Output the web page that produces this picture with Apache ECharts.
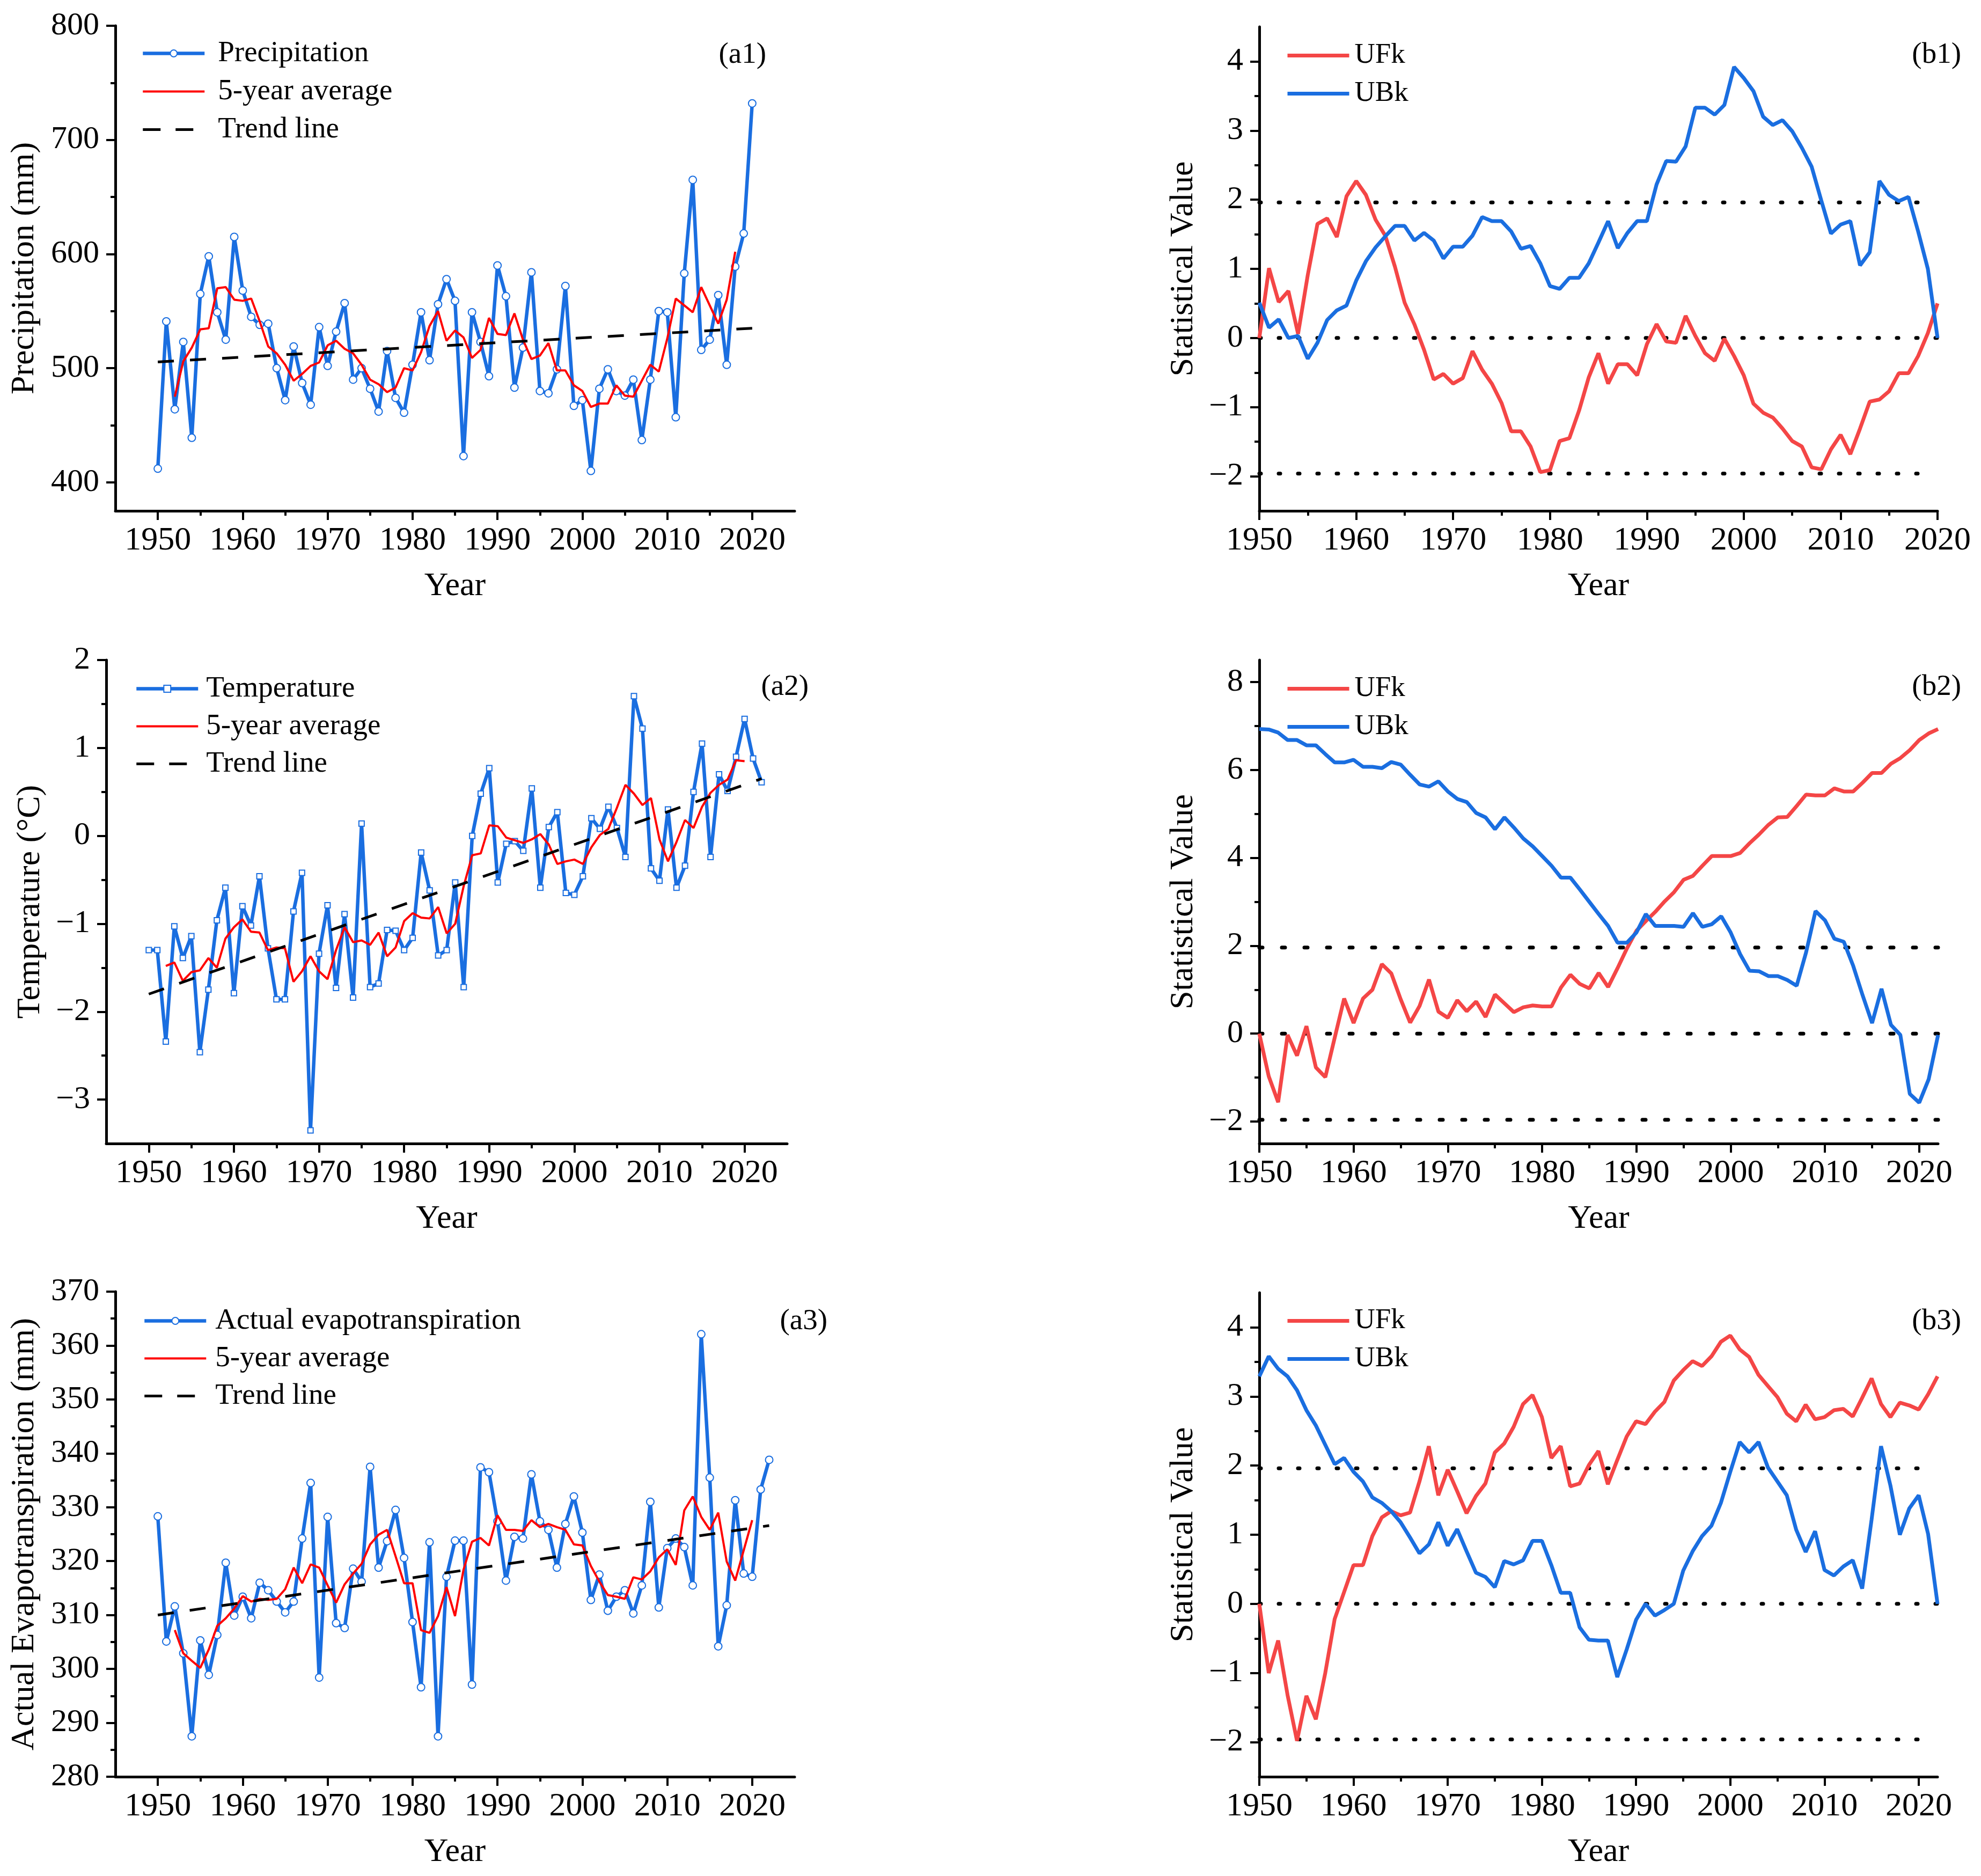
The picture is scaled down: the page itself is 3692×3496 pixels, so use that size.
<!DOCTYPE html>
<html>
<head>
<meta charset="utf-8">
<script src="https://cdn.jsdelivr.net/npm/echarts@6.0.0/dist/echarts.min.js"></script>
<style>
  html, body { margin: 0; padding: 0; background: #fff; }
  #main { width: 3692px; height: 3496px; }
</style>
</head>
<body>
<div id="main"></div>
<script>
// ---- data ----
// (a1) precipitation, 1950-2020
var precipStart = 1950;
var precip = [
  412, 541, 464, 523, 439, 565, 598, 549, 525, 615,
  568, 545, 538, 539, 500, 472, 519, 487, 468, 536,
  502, 532, 557, 490, 500, 482, 462, 515, 474, 461,
  503, 549, 507, 556, 578, 559, 423, 549, 523, 493,
  590, 563, 483, 518, 584, 480, 478, 499, 572, 467,
  472, 410, 482, 499, 480, 476, 490, 437, 490, 550,
  549, 457, 583, 665, 516, 525, 564, 503, 589, 618,
  732
];
// 5-year average, 1952-2018
var precipAvgStart = 1952;
var precipAvg = [
  475, 506, 518, 534, 535, 570, 571, 560, 559, 561,
  541, 519, 513, 503, 489, 495, 502, 505, 520, 524,
  517, 513, 503, 490, 486, 479, 483, 500, 498, 514,
  537, 550, 524, 533, 527, 509, 516, 544, 530, 529,
  548, 525, 508, 511, 522, 498, 498, 485, 480, 466,
  469, 469, 485, 476, 475, 489, 503, 497, 526, 561,
  555, 549, 571, 555, 539, 560, 602
];
var precipTrend = [[1950, 505.5], [2020, 535]];

// (a2) temperature, 1950-2022
var tempStart = 1950;
var temp = [
  -1.30, -1.30, -2.34, -1.03, -1.39, -1.14, -2.46, -1.75, -0.96, -0.59,
  -1.79, -0.80, -1.02, -0.46, -1.28, -1.86, -1.86, -0.86, -0.42, -3.35,
  -1.34, -0.79, -1.73, -0.89, -1.84, 0.14, -1.72, -1.68, -1.07, -1.08,
  -1.30, -1.16, -0.19, -0.62, -1.36, -1.30, -0.53, -1.72, 0.00, 0.48,
  0.77, -0.53, -0.09, -0.06, -0.17, 0.54, -0.59, 0.10, 0.27, -0.65,
  -0.67, -0.46, 0.20, 0.08, 0.33, 0.09, -0.24, 1.59, 1.22, -0.37,
  -0.51, 0.30, -0.59, -0.34, 0.50, 1.05, -0.24, 0.70, 0.51, 0.90,
  1.33, 0.88, 0.61
];
var tempAvgStart = 1952;
var tempAvg = [
  -1.48, -1.44, -1.65, -1.55, -1.53, -1.39, -1.50, -1.17,
  -1.04, -0.95, -1.09, -1.10, -1.30, -1.27, -1.28, -1.66, -1.54, -1.37,
  -1.54, -1.63, -1.30, -1.04, -1.21, -1.19, -1.24, -1.10, -1.37, -1.27,
  -0.97, -0.88, -0.93, -0.94, -0.81, -1.11, -1.00, -0.57, -0.22, -0.20,
  0.12, 0.11, -0.02, -0.05, -0.08, -0.04, 0.02, -0.10, -0.32, -0.29,
  -0.27, -0.32, -0.13, 0.01, 0.08, 0.32, 0.58, 0.48, 0.35, 0.43,
  -0.04, -0.29, -0.07, 0.18, 0.09, 0.33, 0.49, 0.58, 0.64, 0.86,
  0.85
];
var tempTrend = [[1950, -1.80], [2022, 0.65]];

// (a3) actual evapotranspiration, 1950-2022
var aetStart = 1950;
var aet = [
  328.3, 305.1, 311.6, 302.9, 287.5, 305.3, 298.9, 306.3, 319.7, 309.9,
  313.4, 309.4, 316.0, 314.6, 312.5, 310.5, 312.5, 324.2, 334.5, 298.4,
  328.2, 308.5, 307.6, 318.6, 316.2, 337.5, 318.8, 323.7, 329.5, 320.6,
  308.7, 296.6, 323.5, 287.5, 317.1, 323.8, 323.8, 297.1, 337.4, 336.5,
  327.4, 316.4, 324.5, 324.2, 336.1, 327.4, 325.8, 318.8, 326.9, 332.0,
  325.3, 312.8, 317.5, 310.8, 313.4, 314.6, 310.3, 315.5, 331.0, 311.4,
  322.4, 324.2, 322.6, 315.5, 362.1, 335.5, 304.2, 311.8, 331.3, 317.7,
  317.1, 333.3, 338.8
];
var aetAvgStart = 1952;
var aetAvg = [
  307.2, 302.9, 301.5, 300.2, 303.6, 308.0, 309.4, 311.2,
  313.5, 312.5, 313.0, 312.8, 313.0, 314.8, 318.8, 315.9, 319.4, 318.8,
  315.5, 312.3, 315.7, 317.7, 319.5, 323.1, 324.9, 325.8, 320.9, 315.9,
  315.9, 307.2, 306.7, 309.8, 315.2, 309.8, 318.4, 323.6, 324.3, 322.9,
  328.5, 325.8, 325.8, 325.6, 327.6, 326.3, 326.9, 326.3, 325.8, 323.1,
  322.9, 319.1, 316.2, 313.7, 313.4, 313.0, 317.0, 316.6, 318.1, 320.7,
  322.2, 319.3, 329.4, 332.0, 328.2, 325.8, 329.0, 319.9, 316.4, 322.0,
  327.6
];
var aetTrend = [[1950, 310.0], [2022, 326.6]];

// (b1) Mann-Kendall, precipitation, 1950-2020
var mkStart = 1950;
var b1UF = [
  0.00, 1.01, 0.52, 0.68, 0.06, 0.91, 1.65, 1.73, 1.46, 2.05,
  2.27, 2.07, 1.71, 1.48, 1.03, 0.51, 0.20, -0.17, -0.60, -0.52,
  -0.66, -0.58, -0.19, -0.46, -0.66, -0.94, -1.35, -1.35, -1.57, -1.94,
  -1.91, -1.49, -1.45, -1.05, -0.57, -0.22, -0.66, -0.38, -0.38, -0.54,
  -0.09, 0.20, -0.05, -0.07, 0.32, 0.03, -0.22, -0.33, -0.01, -0.26,
  -0.54, -0.95, -1.08, -1.15, -1.31, -1.49, -1.57, -1.87, -1.90, -1.61,
  -1.40, -1.68, -1.31, -0.92, -0.89, -0.77, -0.51, -0.51, -0.26, 0.07,
  0.50
];
var b1UB = [
  0.51, 0.15, 0.27, 0.00, 0.03, -0.30, -0.07, 0.26, 0.40, 0.47,
  0.83, 1.11, 1.31, 1.47, 1.62, 1.62, 1.41, 1.52, 1.41, 1.15,
  1.32, 1.32, 1.48, 1.75, 1.69, 1.69, 1.54, 1.29, 1.33, 1.08,
  0.75, 0.71, 0.87, 0.87, 1.08, 1.38, 1.69, 1.30, 1.52, 1.69,
  1.69, 2.22, 2.56, 2.55, 2.77, 3.33, 3.33, 3.23, 3.37, 3.92,
  3.76, 3.57, 3.20, 3.08, 3.15, 2.99, 2.75, 2.48, 1.99, 1.51,
  1.64, 1.69, 1.05, 1.24, 2.27, 2.07, 1.98, 2.04, 1.54, 1.00,
  0.00
];
// (b2) temperature, 1950-2022
var b2UF = [
  0.00, -0.97, -1.56, -0.03, -0.50, 0.17, -0.77, -0.99, -0.09, 0.80,
  0.24, 0.80, 1.00, 1.58, 1.37, 0.78, 0.25, 0.63, 1.23, 0.50,
  0.36, 0.76, 0.51, 0.73, 0.38, 0.89, 0.69, 0.49, 0.60, 0.64,
  0.62, 0.62, 1.05, 1.34, 1.13, 1.03, 1.38, 1.06, 1.49, 1.94,
  2.34, 2.56, 2.77, 3.01, 3.22, 3.50, 3.59, 3.82, 4.04, 4.04,
  4.04, 4.11, 4.33, 4.53, 4.75, 4.92, 4.93, 5.18, 5.44, 5.42,
  5.42, 5.58, 5.51, 5.51, 5.71, 5.93, 5.93, 6.14, 6.27, 6.45,
  6.68, 6.83, 6.93
];
var b2UB = [
  6.93, 6.92, 6.85, 6.68, 6.68, 6.56, 6.56, 6.36, 6.17, 6.17,
  6.23, 6.07, 6.07, 6.04, 6.18, 6.12, 5.89, 5.67, 5.62, 5.74,
  5.51, 5.34, 5.27, 5.02, 4.92, 4.65, 4.92, 4.69, 4.44, 4.26,
  4.04, 3.82, 3.55, 3.55, 3.28, 3.00, 2.72, 2.45, 2.07, 2.07,
  2.30, 2.72, 2.45, 2.45, 2.45, 2.43, 2.74, 2.43, 2.49, 2.67,
  2.30, 1.81, 1.43, 1.42, 1.31, 1.31, 1.22, 1.09, 1.85, 2.79,
  2.58, 2.16, 2.09, 1.54, 0.87, 0.24, 1.02, 0.20, -0.03, -1.37,
  -1.57, -1.04, -0.03
];
// (b3) evapotranspiration, 1950-2022
var b3UF = [
  0.00, -1.00, -0.53, -1.32, -1.98, -1.33, -1.67, -1.00, -0.22, 0.17,
  0.56, 0.56, 0.98, 1.25, 1.34, 1.28, 1.32, 1.77, 2.28, 1.57,
  1.94, 1.63, 1.31, 1.56, 1.74, 2.19, 2.32, 2.56, 2.89, 3.02,
  2.70, 2.11, 2.28, 1.70, 1.74, 2.01, 2.21, 1.73, 2.08, 2.42,
  2.64, 2.60, 2.78, 2.92, 3.23, 3.38, 3.51, 3.44, 3.58, 3.79,
  3.88, 3.68, 3.57, 3.31, 3.15, 2.99, 2.75, 2.64, 2.88, 2.67,
  2.70, 2.80, 2.82, 2.71, 2.98, 3.26, 2.89, 2.70, 2.91, 2.87,
  2.81, 3.03, 3.29
];
var b3UB = [
  3.29, 3.58, 3.40, 3.29, 3.09, 2.80, 2.58, 2.30, 2.02, 2.11,
  1.91, 1.77, 1.54, 1.46, 1.34, 1.18, 0.96, 0.73, 0.86, 1.18,
  0.84, 1.08, 0.76, 0.45, 0.39, 0.24, 0.62, 0.57, 0.63, 0.91,
  0.91, 0.56, 0.16, 0.16, -0.34, -0.52, -0.53, -0.53, -1.06, -0.66,
  -0.23, 0.00, -0.17, -0.09, 0.00, 0.48, 0.76, 0.98, 1.13, 1.46,
  1.91, 2.34, 2.19, 2.34, 1.97, 1.77, 1.57, 1.07, 0.75, 1.05,
  0.49, 0.41, 0.54, 0.63, 0.22, 1.22, 2.28, 1.71, 1.00, 1.38,
  1.57, 1.01, 0.00
];
// significance levels (±1.96) and zero line, with the year where each dotted line ends
var mkLevels = [1.96, 0, -1.96];
var b1LevelEnd = [2019, 2020, 2019];
var b2LevelEnd = [2022, 2022, 2022];
var b3LevelEnd = [2021, 2022, 2021];

// tick labels
var yearTicks = [1950, 1960, 1970, 1980, 1990, 2000, 2010, 2020];
var yearMinor = [1955, 1965, 1975, 1985, 1995, 2005, 2015];
var precipTicks = [400, 500, 600, 700, 800];
var precipMinor = [450, 550, 650, 750];
var tempTicks = [-3, -2, -1, 0, 1, 2];
var tempMinor = [-2.5, -1.5, -0.5, 0.5, 1.5];
var aetTicks = [280, 290, 300, 310, 320, 330, 340, 350, 360, 370];
var aetMinor = [285, 295, 305, 315, 325, 335, 345, 355, 365];
var mkTicks = [-2, -1, 0, 1, 2, 3, 4];
var mkMinor = [-1.5, -0.5, 0.5, 1.5, 2.5, 3.5];
var mk2Ticks = [-2, 0, 2, 4, 6, 8];
var mk2Minor = [-1, 1, 3, 5, 7];

// ---- chart ----
var FONT = '"Liberation Serif", "Times New Roman", serif';
var BLUE = '#1a6ee0';
var RED = '#ff0000';
var UF_RED = '#f44646';
var NONE = 'rgba(0,0,0,0)';

function plain(v) { return String(v).replace('-', '\u2212'); }

function pairs(start, values) {
  return values.map(function (v, k) { return [start + k, v]; });
}

var panels = [
  { grid: { left: 215, top: 48, width: 1266, height: 904 }, x: [1945, 2025], y: [375, 800],
    yTicks: precipTicks, yMinor: precipMinor, yName: 'Precipitation (mm)', yGap: 138, tag: '(a1)', tagX: 1428, tagY: 103 },
  { grid: { left: 198, top: 1230, width: 1269, height: 901 }, x: [1945, 2025], y: [-3.5, 2],
    yTicks: tempTicks, yMinor: tempMinor, yName: 'Temperature (\u00B0C)', yGap: 110, tag: '(a2)', tagX: 1507, tagY: 1281 },
  { grid: { left: 215, top: 2407, width: 1266, height: 904 }, x: [1945, 2025], y: [280, 370],
    yTicks: aetTicks, yMinor: aetMinor, yName: 'Actual Evapotranspiration (mm)', yGap: 138, tag: '(a3)', tagX: 1542, tagY: 2463 },
  { grid: { left: 2347, top: 50, width: 1264, height: 902 }, x: [1950, 2020], y: [-2.5, 4.5],
    yTicks: mkTicks, yMinor: mkMinor, yName: 'Statistical Value', yGap: 110, tag: '(b1)', tagX: 3655, tagY: 103 },
  { grid: { left: 2347, top: 1230, width: 1265, height: 901 }, x: [1950, 2022], y: [-2.5, 8.5],
    yTicks: mk2Ticks, yMinor: mk2Minor, yName: 'Statistical Value', yGap: 110, tag: '(b2)', tagX: 3655, tagY: 1281 },
  { grid: { left: 2347, top: 2409, width: 1264, height: 902 }, x: [1950, 2022], y: [-2.5, 4.5],
    yTicks: mkTicks, yMinor: mkMinor, yName: 'Statistical Value', yGap: 110, tag: '(b3)', tagX: 3655, tagY: 2463 }
];

var grids = [], xAxes = [], yAxes = [], graphics = [];
var axisLine = { show: true, onZero: false, lineStyle: { color: '#000', width: 5 } };

panels.forEach(function (p, i) {
  grids.push(Object.assign({ containLabel: false, outerBoundsMode: 'none' }, p.grid));
  // main x axis
  xAxes.push({
    type: 'value', gridIndex: i, position: 'bottom', min: p.x[0], max: p.x[1],
    axisLine: axisLine, splitLine: { show: false },
    axisTick: { show: true, customValues: yearTicks, length: 17, lineStyle: { color: '#000', width: 4 } },
    axisLabel: { customValues: yearTicks, margin: 25, color: '#000', fontFamily: FONT, fontSize: 62, formatter: plain },
    name: 'Year', nameLocation: 'middle', nameGap: 110,
    nameTextStyle: { color: '#000', fontFamily: FONT, fontSize: 62 }
  });
  // minor x ticks
  xAxes.push({
    type: 'value', gridIndex: i, position: 'bottom', min: p.x[0], max: p.x[1],
    axisLine: { show: false, onZero: false }, splitLine: { show: false },
    axisTick: { show: true, customValues: yearMinor, length: 9, lineStyle: { color: '#000', width: 4 } },
    axisLabel: { show: false }
  });
  // main y axis
  yAxes.push({
    type: 'value', gridIndex: i, position: 'left', min: p.y[0], max: p.y[1],
    axisLine: axisLine, splitLine: { show: false },
    axisTick: { show: true, customValues: p.yTicks, length: 17, lineStyle: { color: '#000', width: 4 } },
    axisLabel: { customValues: p.yTicks, margin: 30, color: '#000', fontFamily: FONT, fontSize: 60, formatter: plain },
    name: p.yName, nameLocation: 'middle', nameGap: p.yGap,
    nameTextStyle: { color: '#000', fontFamily: FONT, fontSize: 62 }
  });
  // minor y ticks
  yAxes.push({
    type: 'value', gridIndex: i, position: 'left', min: p.y[0], max: p.y[1],
    axisLine: { show: false, onZero: false }, splitLine: { show: false },
    axisTick: { show: true, customValues: p.yMinor, length: 9, lineStyle: { color: '#000', width: 4 } },
    axisLabel: { show: false }
  });
  graphics.push({
    type: 'text', x: p.tagX, y: p.tagY,
    style: { text: p.tag, fill: '#000', font: '55px ' + FONT, align: 'right', verticalAlign: 'middle' }
  });
});

function obsSeries(name, i, start, values, symbol, size) {
  return {
    name: name, type: 'line', xAxisIndex: 2 * i, yAxisIndex: 2 * i,
    data: pairs(start, values), symbol: symbol, symbolSize: size, showSymbol: true,
    lineStyle: { color: BLUE, width: 6.5 },
    itemStyle: { color: BLUE, borderColor: BLUE, borderWidth: 3.5 },
    z: 3
  };
}
function avgSeries(i, start, values) {
  return {
    name: '5-year average', type: 'line', xAxisIndex: 2 * i, yAxisIndex: 2 * i,
    data: pairs(start, values), symbol: 'none',
    lineStyle: { color: RED, width: 4 }, itemStyle: { color: RED }, z: 4
  };
}
function trendSeries(i, pts) {
  return {
    name: 'Trend line', type: 'line', xAxisIndex: 2 * i, yAxisIndex: 2 * i,
    data: pts, symbol: 'none',
    lineStyle: { color: '#000', width: 5, type: [30, 30] }, itemStyle: { color: '#000' }, z: 5
  };
}
function mkSeries(name, i, values, color) {
  return {
    name: name, type: 'line', xAxisIndex: 2 * i, yAxisIndex: 2 * i,
    data: pairs(mkStart, values), symbol: 'none',
    lineStyle: { color: color, width: 7 }, itemStyle: { color: color }, z: 3
  };
}
function levelSeries(i, ends, dash, w) {
  return mkLevels.map(function (lv, k) {
    return {
      type: 'line', xAxisIndex: 2 * i, yAxisIndex: 2 * i, silent: true,
      data: [[mkStart, lv], [ends[k], lv]], symbol: 'none',
      lineStyle: { color: '#000', width: w, type: dash, cap: 'round' }, z: 2
    };
  });
}

var series = [
  obsSeries('Precipitation', 0, precipStart, precip, 'emptyCircle', 14),
  avgSeries(0, precipAvgStart, precipAvg),
  trendSeries(0, precipTrend),
  obsSeries('Temperature', 1, tempStart, temp, 'emptyRect', 10),
  avgSeries(1, tempAvgStart, tempAvg),
  trendSeries(1, tempTrend),
  obsSeries('Actual evapotranspiration', 2, aetStart, aet, 'emptyCircle', 14),
  avgSeries(2, aetAvgStart, aetAvg),
  trendSeries(2, aetTrend),
  mkSeries('UFk', 3, b1UF, UF_RED),
  mkSeries('UBk', 3, b1UB, BLUE),
  mkSeries('UFk', 4, b2UF, UF_RED),
  mkSeries('UBk', 4, b2UB, BLUE),
  mkSeries('UFk', 5, b3UF, UF_RED),
  mkSeries('UBk', 5, b3UB, BLUE)
].concat(levelSeries(3, b1LevelEnd, [3, 33], 7))
 .concat(levelSeries(4, b2LevelEnd, [6, 36], 7))
 .concat(levelSeries(5, b3LevelEnd, [3, 33], 7));

// legend entries: plain line icons except the observed series
function lineItem(name, width, dash) {
  return {
    name: name,
    itemStyle: { color: NONE, borderColor: NONE, borderWidth: 0, opacity: 0 },
    lineStyle: { width: width, type: dash || 'solid' }
  };
}
function obsItem(name) {
  return { name: name, lineStyle: { width: 6.5 } };
}
function legendAt(items, left, top, gap, size, pad) {
  return {
    data: items, orient: 'vertical', left: left, top: top, padding: 0,
    itemWidth: 115, itemHeight: 16, itemGap: gap, selectedMode: false,
    textStyle: { color: '#000', fontFamily: FONT, fontSize: size, lineHeight: size, padding: [0, 0, 0, pad] }
  };
}
var aLegendTail = [lineItem('5-year average', 4), lineItem('Trend line', 5, [33, 28])];
var bLegend = [lineItem('UFk', 7), lineItem('UBk', 7)];

var option = {
  animation: false,
  backgroundColor: '#fff',
  grid: grids,
  xAxis: xAxes,
  yAxis: yAxes,
  legend: [
    legendAt([obsItem('Precipitation')].concat(aLegendTail), 263, 72, 16, 55, 20),
    legendAt([obsItem('Temperature')].concat(aLegendTail), 251, 1256, 15, 55, 10),
    legendAt([obsItem('Actual evapotranspiration')].concat(aLegendTail), 266, 2434, 15, 55, 12),
    legendAt(bLegend, 2396, 77, 18, 53, 5),
    legendAt(bLegend, 2396, 1257, 18, 53, 5),
    legendAt(bLegend, 2396, 2435, 18, 53, 5)
  ],
  graphic: graphics,
  series: series
};

var chart = echarts.init(document.getElementById('main'));
chart.setOption(option);
</script>
</body>
</html>
